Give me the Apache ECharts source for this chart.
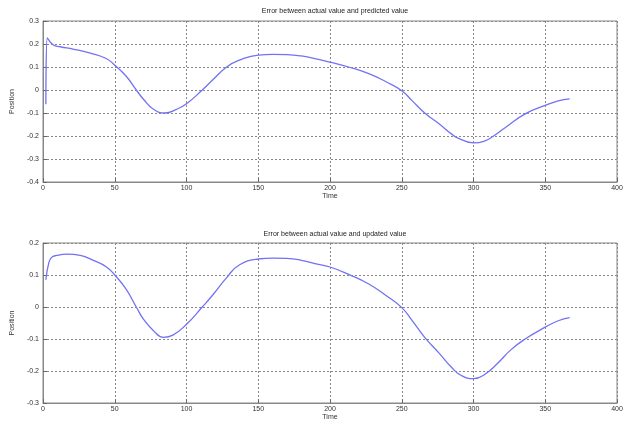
<!DOCTYPE html>
<html>
<head>
<meta charset="utf-8">
<script src="https://cdn.jsdelivr.net/npm/echarts@6/dist/echarts.min.js"></script>
<style>html,body{margin:0;padding:0;background:#fff}#c{width:633px;height:427px}</style>
</head>
<body>
<div id="c"></div>
<script>
const titles = ['Error between actual value and predicted value', 'Error between actual value and updated value'];
const xTime1 = [2,3,7,12,21,33,44,50,58,65,70,77,85,93,100,111,118,128,137,150,160,170,180,192,200,213,227,239,250,257,266,276,285,290,300,308,314,322,336,350,359,367];
const yPred = [-0.062,0.226,0.197,0.188,0.178,0.16,0.137,0.108,0.06,0.0,-0.04,-0.084,-0.1,-0.084,-0.06,0.0,0.042,0.1,0.13,0.152,0.155,0.154,0.148,0.133,0.121,0.1,0.071,0.036,-0.003,-0.045,-0.1,-0.147,-0.193,-0.211,-0.23,-0.221,-0.2,-0.164,-0.104,-0.067,-0.047,-0.039];
const xTime2 = [2,4,6,9.5,16.5,26,35,44,50,58,65,70,77,84,90.5,100,111,118,128,137,150,160,170,180,192,200,213,227,239,250,257,266,276,285,291.5,300,308,317,326,336,350,359,367];
const yUpd = [0.085,0.137,0.155,0.161,0.165,0.161,0.146,0.126,0.1,0.055,0.0,-0.038,-0.074,-0.095,-0.088,-0.054,0.0,0.036,0.092,0.132,0.15,0.153,0.152,0.146,0.133,0.125,0.102,0.072,0.036,-0.002,-0.041,-0.095,-0.144,-0.19,-0.214,-0.224,-0.21,-0.175,-0.134,-0.1,-0.063,-0.043,-0.033];
const xTicks = {min:0, max:400, interval:50};
const yRange1 = {min:-0.4, max:0.3, interval:0.1};
const yRange2 = {min:-0.3, max:0.2, interval:0.1};

const font = "'Liberation Sans Narrow', 'Liberation Sans', Arial, sans-serif";
const lineColor = '#7272f4';
function pairs(xs, ys){ return xs.map((x,i)=>[x, ys[i]]); }
function xAxis(idx){
  return {type:'value', gridIndex:idx, min:xTicks.min, max:xTicks.max, interval:xTicks.interval,
    name:'Time', nameLocation:'middle', nameGap:11,
    nameTextStyle:{fontFamily:font, fontSize:7, color:'#333'},
    axisLine:{show:true, onZero:false, lineStyle:{color:'#888', width:1}},
    axisTick:{show:true, inside:true, length:4, lineStyle:{color:'#666'}},
    axisLabel:{fontFamily:font, fontSize:7, color:'#333', margin:3},
    splitLine:{show:true, lineStyle:{color:'#888', type:[2,2], width:1}}};
}
function yAxis(idx, r){
  return {type:'value', gridIndex:idx, min:r.min, max:r.max, interval:r.interval,
    name:'Position', nameLocation:'middle', nameGap:19,
    nameTextStyle:{fontFamily:font, fontSize:7, color:'#333'},
    axisLine:{show:true, lineStyle:{color:'#888', width:1}},
    axisTick:{show:true, inside:true, length:4, lineStyle:{color:'#666'}},
    axisLabel:{fontFamily:font, fontSize:7, color:'#333', margin:4,
      formatter:v=>{const s=Math.round(v*10)/10; return s===0?'0':String(s);}},
    splitLine:{show:true, lineStyle:{color:'#888', type:[2,2], width:1}}};
}
const chart = echarts.init(document.getElementById('c'), null, {renderer:'canvas'});
chart.setOption({
  backgroundColor:'#fff',
  animation:false,
  title:[
    {text:titles[0], left:330, top:3, textAlign:'center', textStyle:{fontFamily:font, fontSize:7, fontWeight:'normal', color:'#222'}},
    {text:titles[1], left:330, top:226, textAlign:'center', textStyle:{fontFamily:font, fontSize:7, fontWeight:'normal', color:'#222'}}
  ],
  grid:[
    {left:43, top:21, width:574, height:161, show:true, borderColor:'#888', borderWidth:1, backgroundColor:'#fff'},
    {left:43, top:243, width:574, height:160, show:true, borderColor:'#888', borderWidth:1, backgroundColor:'#fff'}
  ],
  xAxis:[xAxis(0), xAxis(1)],
  yAxis:[yAxis(0, yRange1), yAxis(1, yRange2)],
  series:[
    {type:'line', xAxisIndex:0, yAxisIndex:0, data:pairs(xTime1, yPred), smooth:0.5, showSymbol:false,
      lineStyle:{color:lineColor, width:1.3}},
    {type:'line', xAxisIndex:1, yAxisIndex:1, data:pairs(xTime2, yUpd), smooth:0.5, showSymbol:false,
      lineStyle:{color:lineColor, width:1.3}}
  ]
});
</script>
</body>
</html>
